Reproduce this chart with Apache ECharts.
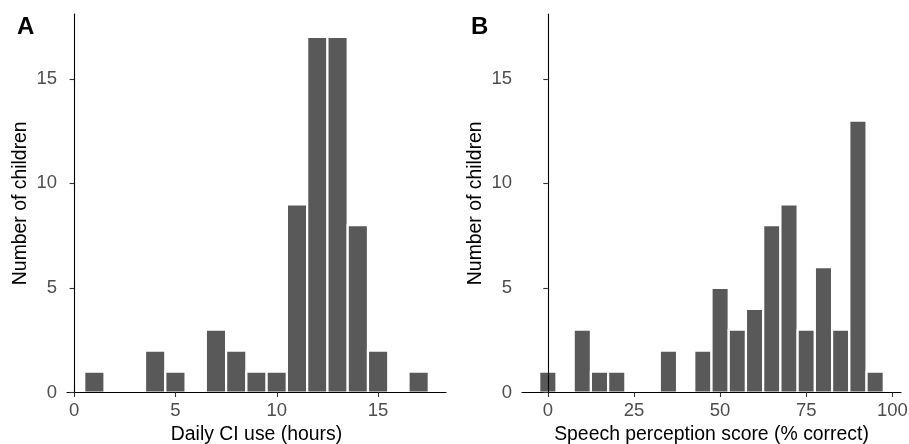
<!DOCTYPE html>
<html>
<head>
<meta charset="utf-8">
<script src="https://cdn.jsdelivr.net/npm/echarts@6/dist/echarts.min.js"></script>
<style>
html,body{margin:0;padding:0;background:#fff;}
#chart{width:909px;height:444px;}
</style>
</head>
<body>
<div id="chart"></div>
<script>
// Panel A: Daily CI use (hours), bin width 1
const hoursCenters = [1, 4, 5, 7, 8, 9, 10, 11, 12, 13, 14, 15, 17];
const hoursCounts  = [1, 2, 1, 3, 2, 1, 1, 9, 17, 17, 8, 2, 1];
const hoursBinWidth = 1;
const hoursTicks = [0, 5, 10, 15];

// Panel B: Speech perception score (% correct), bin width 5
const scoreCenters = [0, 10, 15, 20, 35, 45, 50, 55, 60, 65, 70, 75, 80, 85, 90, 95];
const scoreCounts  = [1, 3, 1, 1, 2, 2, 5, 3, 4, 8, 9, 3, 6, 3, 13, 1];
const scoreBinWidth = 5;
const scoreTicks = [0, 25, 50, 75, 100];

const countTicks = [0, 5, 10, 15];

const FONT = '"Liberation Sans", Arial, Helvetica, sans-serif';

function toBins(centers, counts, w) {
  return centers.map((c, i) => [c - w / 2, c + w / 2, counts[i]]);
}

function renderBin(params, api) {
  const x0 = api.value(0), x1 = api.value(1), y = api.value(2);
  const p0 = api.coord([x0, y]);
  const p1 = api.coord([x1, 0]);
  return {
    type: 'rect',
    shape: { x: p0[0], y: p0[1], width: p1[0] - p0[0], height: p1[1] - p0[1] },
    style: { fill: '#595959', stroke: '#ffffff', lineWidth: 2.2 }
  };
}

function xAxisDef(idx, min, max, ticks, name) {
  return {
    type: 'value', gridIndex: idx, min: min, max: max, z: 5,
    name: name, nameLocation: 'middle', nameGap: 32,
    nameTextStyle: { fontSize: 19.4, color: '#000', fontFamily: FONT },
    splitLine: { show: false },
    axisLine: { show: true, onZero: false, lineStyle: { color: '#000', width: 1.1 } },
    axisTick: { show: true, length: 4.5, lineStyle: { color: '#333', width: 1.1 }, customValues: ticks },
    axisLabel: { fontSize: 18.5, color: '#4d4d4d', margin: 9, fontFamily: FONT, customValues: ticks }
  };
}

function yAxisDef(idx) {
  return {
    type: 'value', gridIndex: idx, min: 0, max: 18.1, z: 5,
    name: 'Number of children', nameLocation: 'middle', nameGap: 37,
    nameTextStyle: { fontSize: 19.4, color: '#000', fontFamily: FONT },
    splitLine: { show: false },
    axisLine: { show: true, lineStyle: { color: '#000', width: 1.1 } },
    axisTick: { show: true, length: 4.5, lineStyle: { color: '#333', width: 1.1 }, customValues: countTicks },
    axisLabel: { fontSize: 18.5, color: '#4d4d4d', margin: 10, fontFamily: FONT, customValues: countTicks }
  };
}

const chart = echarts.init(document.getElementById('chart'), null, { renderer: 'canvas' });
chart.setOption({
  backgroundColor: '#ffffff',
  animation: false,
  title: [
    { text: 'A', left: 17, top: 15.5, padding: 0, textStyle: { fontSize: 24, fontWeight: 'bold', color: '#000', fontFamily: FONT } },
    { text: 'B', left: 471, top: 15.5, padding: 0, textStyle: { fontSize: 24, fontWeight: 'bold', color: '#000', fontFamily: FONT } }
  ],
  grid: [
    { left: 67, top: 14, width: 379, height: 378.5, containLabel: false, outerBoundsMode: 'none' },
    { left: 522, top: 14, width: 379, height: 378.5, containLabel: false, outerBoundsMode: 'none' }
  ],
  xAxis: [
    xAxisDef(0, -0.35, 18.35, hoursTicks, 'Daily CI use (hours)'),
    xAxisDef(1, -7.5, 102.5, scoreTicks, 'Speech perception score (% correct)')
  ],
  yAxis: [yAxisDef(0), yAxisDef(1)],
  series: [
    { type: 'custom', xAxisIndex: 0, yAxisIndex: 0, z: 1, renderItem: renderBin,
      encode: { x: [0, 1], y: 2 }, data: toBins(hoursCenters, hoursCounts, hoursBinWidth) },
    { type: 'custom', xAxisIndex: 1, yAxisIndex: 1, z: 1, renderItem: renderBin,
      encode: { x: [0, 1], y: 2 }, data: toBins(scoreCenters, scoreCounts, scoreBinWidth) }
  ]
});
</script>
</body>
</html>
